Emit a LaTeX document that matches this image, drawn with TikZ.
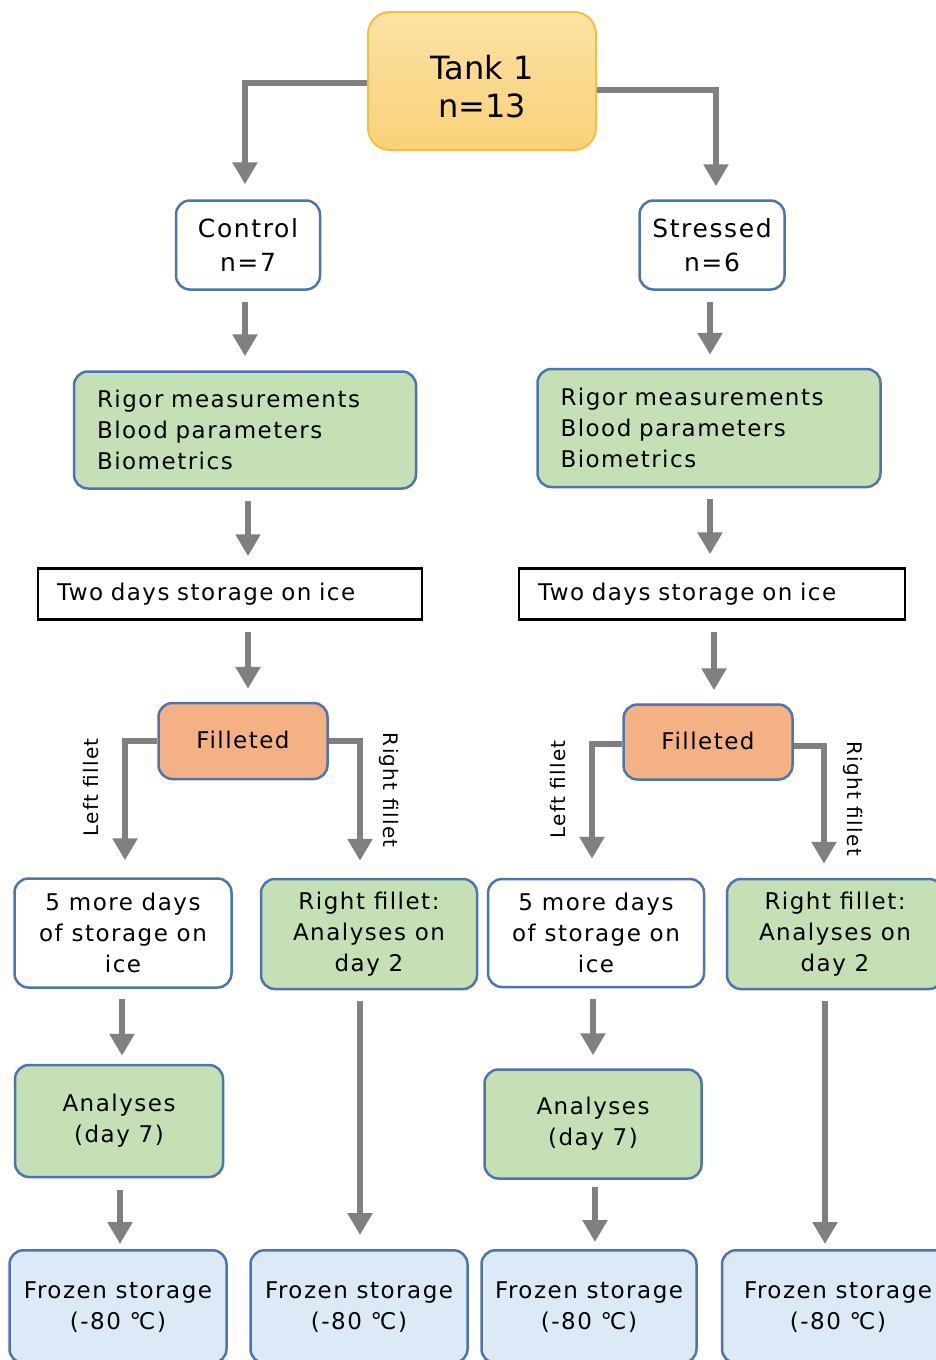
\documentclass[tikz,border=0pt]{standalone}
\usepackage{fontspec}
\setmainfont{DejaVu Sans}
\newfontfamily\boxfont{DejaVu Sans}[LetterSpace=6.5]
\usetikzlibrary{arrows.meta}

\definecolor{boxblue}{HTML}{4F74AD}
\definecolor{boxgreen}{HTML}{C5E0B4}
\definecolor{boxorange}{HTML}{F4B183}
\definecolor{boxpale}{HTML}{DCE9F6}
\definecolor{tanktop}{HTML}{FCE2A4}
\definecolor{tankbot}{HTML}{F9D17A}
\definecolor{tankline}{HTML}{F5BF3F}
\definecolor{arrgray}{HTML}{808080}

\tikzset{
  box/.style={draw=boxblue, line width=2.5pt, rounded corners=14pt, align=center,
    inner sep=0pt, font=\boxfont\fontsize{23}{31}\selectfont},
  whitebox/.style={box, fill=white},
  greenbox/.style={box, fill=boxgreen},
  orangebox/.style={box, fill=boxorange},
  bluebox/.style={box, fill=boxpale, minimum width=217pt, anchor=north, inner ysep=31pt},
  icebox/.style={box, draw=black, rounded corners=0pt, align=left, inner xsep=19pt, minimum height=51pt},
  groupbox/.style={whitebox, minimum height=89pt, font=\boxfont\fontsize{25}{34}\selectfont},
  tankbox/.style={draw=tankline, line width=2pt, rounded corners=22pt, top color=tanktop,
    bottom color=tankbot, align=center, minimum width=228pt, minimum height=138pt,
    font=\fontsize{32}{38}\selectfont},
  arr/.style={draw=arrgray, line width=6.5pt, -{Triangle[width=24pt,length=22pt]},
    shorten <=11pt, shorten >=13pt},
  lbl/.style={font=\boxfont\fontsize{20}{24}\selectfont, inner xsep=0pt, inner ysep=23pt, anchor=south},
}

\begin{document}
\begin{tikzpicture}[x=1pt,y=-1pt]
\useasboundingbox (0,0) rectangle (936,1360);

\node[tankbox] (tank) at (482,81) {\rule{0pt}{35pt}Tank 1\\n=13};

% the two groups
\node[groupbox, minimum width=144pt] (ctrl) at (248,245) {Control\\n=7};
\node[groupbox, minimum width=145pt] (strs) at (712,245) {Stressed\\n=6};

\node[greenbox, align=left, text width=296pt, inner xsep=23pt, minimum height=117pt] (msrL) at (245,430) {Rigor measurements\\Blood parameters\\Biometrics};
\node[greenbox, align=left, text width=297pt, inner xsep=23pt, minimum height=118pt] (msrR) at (709,428) {Rigor measurements\\Blood parameters\\Biometrics};

\node[icebox, text width=346pt] (iceL) at (230,594) {Two days storage on ice};
\node[icebox, text width=348pt] (iceR) at (712,594) {Two days storage on ice};

\node[orangebox, minimum width=169pt, minimum height=76pt] (filL) at (243,741) {\raisebox{2pt}{Filleted}};
\node[orangebox, minimum width=169pt, minimum height=75pt] (filR) at (708,742) {\raisebox{2pt}{Filleted}};

% fillets
\node[whitebox, minimum width=217pt, minimum height=109pt] (fiveL) at (123,933) {5 more days\\of storage on\\ice};
\node[greenbox, minimum width=216pt, minimum height=110pt] (rfL) at (369,934) {Right fillet:\\Analyses on\\day 2};
\node[whitebox, minimum width=216pt, minimum height=108pt] (fiveR) at (596,933) {5 more days\\of storage on\\ice};
\node[greenbox, minimum width=216pt, minimum height=110pt] (rfR) at (835,934) {Right fillet:\\Analyses on\\day 2};

\node[greenbox, minimum width=208pt, minimum height=112pt] (anaL) at (119,1121) {Analyses\\(day 7)};
\node[greenbox, minimum width=217pt, minimum height=109pt] (anaR) at (593,1124) {Analyses\\(day 7)};

% frozen storage
\node[bluebox] (frzA) at (118,1249) {Frozen storage\\(-80 ℃)};
\node[bluebox] (frzB) at (359,1249) {Frozen storage\\(-80 ℃)};
\node[bluebox, minimum width=215pt] (frzC) at (589,1249) {Frozen storage\\(-80 ℃)};
\node[bluebox, minimum width=232pt] (frzD) at (838,1249) {Frozen storage\\(-80 ℃)};

% arrows
\draw[arr, shorten <=0pt, shorten >=15pt] ([yshift=-2pt]tank.west) -| ([xshift=-3pt]ctrl.north);
\draw[arr, shorten <=0pt, shorten >=13pt] ([yshift=-9pt]tank.east) -| ([xshift=4pt]strs.north);

\draw[arr, shorten >=14pt] ([xshift=-3pt]ctrl.south) -- ([xshift=-3pt]ctrl.south |- msrL.north);
\draw[arr] ([xshift=-2pt]strs.south) -- ([xshift=-2pt]strs.south |- msrR.north);
\draw[arr, shorten >=11pt] ([xshift=3pt]msrL.south) -- ([xshift=3pt]msrL.south |- iceL.north);
\draw[arr] ([xshift=1pt]msrR.south) -- ([xshift=1pt]msrR.south |- iceR.north);
\draw[arr] ([xshift=5pt]filL.north |- iceL.south) -- ([xshift=5pt]filL.north);
\draw[arr] ([xshift=6pt]filR.north |- iceR.south) -- ([xshift=6pt]filR.north);

\draw[arr, shorten <=0pt, shorten >=17pt] (filL.west) -| node[lbl, pos=0.67, rotate=90] {Left fillet} ([xshift=2pt]fiveL.north);
\draw[arr, shorten <=0pt, shorten >=17pt] (filL.east) -| node[lbl, pos=0.68, rotate=-90, inner ysep=16pt] {Right fillet} ([xshift=-9pt]rfL.north);
\draw[arr, shorten <=0pt, shorten >=19pt] ([yshift=-2pt]filR.west) -| node[lbl, pos=0.67, rotate=90] {Left fillet} ([xshift=-4pt]fiveR.north);
\draw[arr, shorten <=0pt, shorten >=14pt] ([yshift=-4pt]filR.east) -| node[lbl, pos=0.7, rotate=-90, inner ysep=16pt] {Right fillet} ([xshift=-11pt]rfR.north);

\draw[arr, shorten <=10pt, shorten >=8pt] ([xshift=-1pt]fiveL.south) -- ([xshift=-1pt]fiveL.south |- anaL.north);
\draw[arr] ([xshift=-3pt]fiveR.south) -- ([xshift=-3pt]fiveR.south |- anaR.north);
\draw[arr, shorten <=12pt, shorten >=5pt] ([xshift=1pt]anaL.south) -- ([xshift=1pt]anaL.south |- frzA.north);
\draw[arr, shorten <=7pt, shorten >=7pt] ([xshift=2pt]anaR.south) -- ([xshift=2pt]anaR.south |- frzC.north);
\draw[arr, shorten >=14pt] ([xshift=1pt]frzB.north |- rfL.south) -- ([xshift=1pt]frzB.north);
\draw[arr, shorten >=5pt] ([xshift=-10pt]rfR.south) -- ([xshift=-10pt]rfR.south |- frzD.north);
\end{tikzpicture}
\end{document}
